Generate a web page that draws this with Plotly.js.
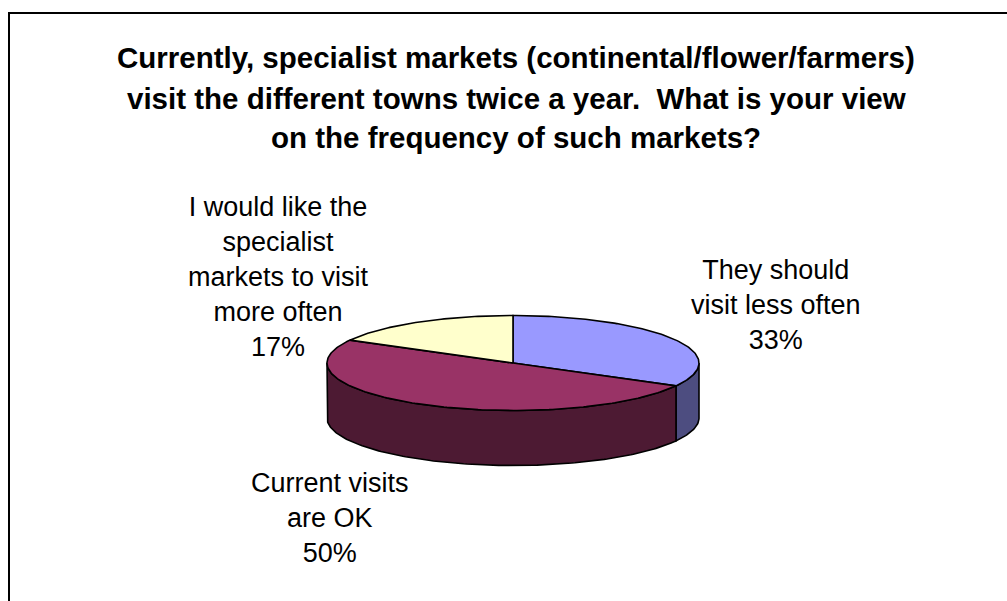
<!DOCTYPE html>
<html>
<head>
<meta charset="utf-8">
<script src="https://cdn.plot.ly/plotly-3.0.1.min.js"></script>
<style>
  html, body { margin: 0; padding: 0; background: #ffffff; }
  #chart { width: 1007px; height: 601px; }
</style>
</head>
<body>
<div id="chart"></div>
<script>
// ---- data ----
const categories = ["They should visit less often", "Current visits are OK", "I would like the specialist markets to visit more often"];
const values = [33, 50, 17];
const labelText = ["They should<br>visit less often", "Current visits<br>are OK", "I would like the<br>specialist<br>markets to visit<br>more often"];
const titleLines = [
  "Currently, specialist markets (continental/flower/farmers)",
  "visit the different towns twice a year.  What is your view",
  "on the frequency of such markets?"
];
const topColors = ["#9999FF", "#993366", "#FFFFCC"];
const sideColors = ["#4D4D80", "#4D1A33", "#808066"];

// ---- geometry of the 3D pie (layout constants) ----
const W = 1007, H = 601;
const cx = 513, cy = 363, rx = 186, ry = 47.5, depth = 55;
const labelPos = [[776, 305], [330, 518], [278, 277]];
const titleY = [57, 98, 137];

const total = values.reduce((a, b) => a + b, 0);
const DEG = Math.PI / 180;
function pt(theta, dz) {
  return [cx + rx * Math.cos(theta * DEG), cy - ry * Math.sin(theta * DEG) + (dz || 0)];
}
function arc(a, b, dz) {
  const pts = [];
  const n = Math.max(2, Math.ceil(Math.abs(b - a)));
  for (let i = 0; i <= n; i++) pts.push(pt(a + (b - a) * i / n, dz));
  return pts;
}

// slice angles: start at 12 o'clock, clockwise
const slices = [];
let cum = 0;
values.forEach((v, i) => {
  const start = 90 - 360 * cum / total;
  cum += v;
  const end = 90 - 360 * cum / total;
  slices.push({ start, end, i });
});

const traces = [];
const lineStyle = { color: "#000000", width: 1.6 };

// side walls (front half only: angles in [-180, 0])
slices.forEach(s => {
  const lo = Math.max(s.end, -180), hi = Math.min(s.start, 0);
  if (hi > lo) {
    const top = arc(hi, lo, 0);
    const bot = arc(lo, hi, depth);
    const poly = top.concat(bot);
    poly.push(top[0]);
    traces.push({
      type: "scatter", mode: "lines", fill: "toself",
      x: poly.map(p => p[0]), y: poly.map(p => p[1]),
      fillcolor: sideColors[s.i], line: lineStyle, hoverinfo: "skip", showlegend: false
    });
  }
});

// top faces
slices.forEach(s => {
  const poly = [[cx, cy]].concat(arc(s.start, s.end, 0));
  poly.push([cx, cy]);
  traces.push({
    type: "scatter", mode: "lines", fill: "toself",
    x: poly.map(p => p[0]), y: poly.map(p => p[1]),
    fillcolor: topColors[s.i], line: lineStyle, hoverinfo: "skip", showlegend: false,
    name: categories[s.i]
  });
});

const font = "Liberation Sans, Arial, Helvetica, sans-serif";
const annotations = [];
titleLines.forEach((t, k) => {
  annotations.push({
    xref: "x", yref: "y", x: 516, y: titleY[k], text: "<b>" + t + "</b>",
    showarrow: false, xanchor: "center", yanchor: "middle",
    font: { family: font, size: 29.5, color: "#000000" }
  });
});
values.forEach((v, i) => {
  annotations.push({
    xref: "x", yref: "y", x: labelPos[i][0], y: labelPos[i][1],
    text: labelText[i] + "<br>" + Math.round(v / total * 100) + "%",
    showarrow: false, xanchor: "center", yanchor: "middle", align: "center",
    font: { family: font, size: 27, color: "#000000" }
  });
});

const layout = {
  width: W, height: H,
  margin: { l: 0, r: 0, t: 0, b: 0 },
  paper_bgcolor: "#ffffff", plot_bgcolor: "#ffffff",
  xaxis: { range: [0, W], visible: false, fixedrange: true },
  yaxis: { range: [H, 0], visible: false, fixedrange: true },
  showlegend: false,
  annotations: annotations,
  shapes: [{
    type: "rect", xref: "paper", yref: "paper",
    x0: 9 / W, x1: 1.05, y0: -0.05, y1: 1 - 13 / H,
    line: { color: "#000000", width: 2 }, fillcolor: "rgba(0,0,0,0)", layer: "below"
  }]
};

Plotly.newPlot("chart", traces, layout, { staticPlot: true, displayModeBar: false });
</script>
</body>
</html>
